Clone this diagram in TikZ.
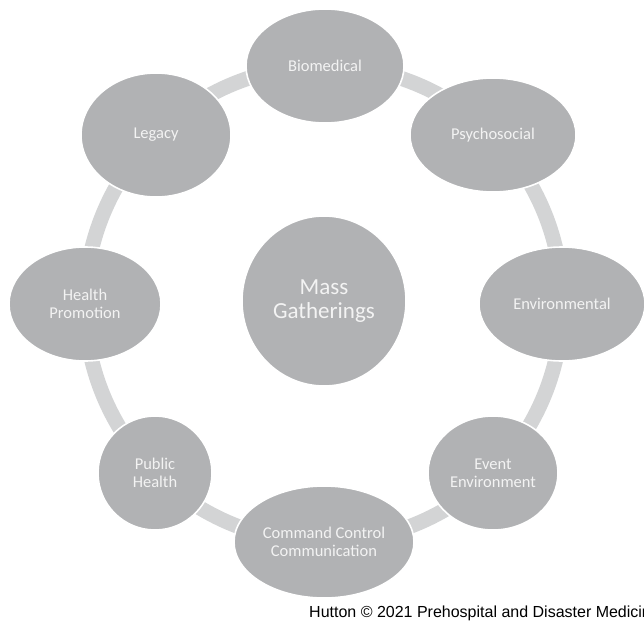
\documentclass[tikz,border=0pt]{standalone}
\usepackage{fontspec}
\setmainfont{Carlito}
\newfontfamily\creditfont{Liberation Sans}
\definecolor{bubble}{rgb}{0.694, 0.698, 0.706}
\definecolor{ringgray}{rgb}{0.827, 0.831, 0.835}
\definecolor{bubbletext}{rgb}{0.953, 0.953, 0.953}
\usetikzlibrary{shapes.geometric,backgrounds}

\begin{document}
\begin{tikzpicture}[x=1pt,y=-1pt]
      \newcommand{\bend}[0]{ 22.5 }
      \tikzstyle{topic} = [ellipse,fill=bubble,draw=white,line width=1.6pt,inner sep=0pt,
        text=bubbletext,align=center,font=\fontsize{16.5}{18}\selectfont]
      \tikzstyle{ringarc} = [line width=15pt,draw=ringgray]
      \useasboundingbox (0,0) rectangle (644,623);
      % centre
      \node[topic,minimum width=164pt,minimum height=170pt,font=\fontsize{23}{24}\selectfont]
        (mass) at (324,301) {Mass\\Gatherings};
      % ring of topics, clockwise from the top
      \node[topic,minimum width=158pt,minimum height=114pt] (biomed) at (325,66) {Biomedical};
      \node[topic,minimum width=166pt,minimum height=114pt] (psycho) at (493,135) {Psychosocial};
      \node[topic,minimum width=166pt,minimum height=114pt] (environ) at (562,304) {Environmental};
      \node[topic,minimum width=130pt,minimum height=114pt] (event) at (493,473) {Event\\Environment};
      \node[topic,minimum width=180pt,minimum height=112pt] (command) at (324,542) {Command Control\\Communication};
      \node[topic,minimum width=114pt,minimum height=114pt] (public) at (155,473) {Public\\Health};
      \node[topic,minimum width=152pt,minimum height=114pt] (promo) at (85,304) {Health\\Promotion};
      \node[topic,minimum width=150pt,minimum height=124pt] (legacy) at (156,135) {Legacy};
      % ring behind the topics
      \begin{scope}[on background layer]
        \foreach \from/\to in {biomed/psycho,psycho/environ,environ/event,event/command,
                               command/public,public/promo,promo/legacy,legacy/biomed}
          \draw[ringarc] (\from.center) to[bend left=\bend,looseness=0.885] (\to.center);
      \end{scope}
      \node[anchor=base west,inner sep=0pt,font=\creditfont\fontsize{16}{18}\selectfont]
        (credit) at (309,617) {Hutton © 2021 Prehospital and Disaster Medicine};
    \end{tikzpicture}
\end{document}
